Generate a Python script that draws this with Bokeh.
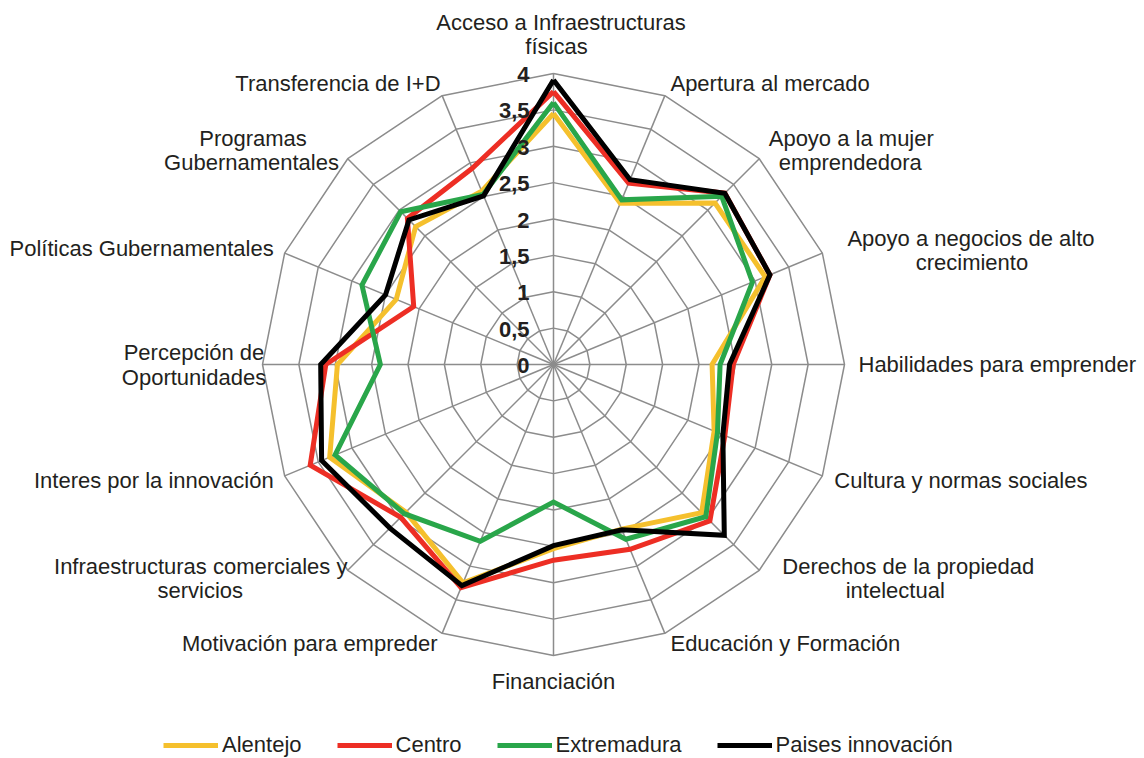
import numpy as np
from bokeh.plotting import figure
from bokeh.models import Range1d, Legend, LegendItem, ColumnDataSource
from bokeh.core.properties import value
from bokeh.embed import file_html
from bokeh.resources import INLINE

# ---------------- data ----------------
categories = [
    "Acceso a Infraestructuras\nfísicas",
    "Apertura al mercado",
    "Apoyo a la mujer\nemprendedora",
    "Apoyo a negocios de alto\ncrecimiento",
    "Habilidades para emprender",
    "Cultura y normas sociales",
    "Derechos de la propiedad\nintelectual",
    "Educación y Formación",
    "Financiación",
    "Motivación para empreder",
    "Infraestructuras comerciales y\nservicios",
    "Interes por la innovación",
    "Percepción de\nOportunidades",
    "Políticas Gubernamentales",
    "Programas\nGubernamentales",
    "Transferencia de I+D",
]
series_names = ["Alentejo", "Centro", "Extremadura", "Paises innovación"]
alentejo = [3.45, 2.40, 3.14, 3.15, 2.18, 2.39, 2.88, 2.45, 2.53, 3.25, 2.87, 3.33, 2.97, 2.34, 2.68, 2.58]
centro = [3.75, 2.70, 3.33, 3.22, 2.47, 2.55, 3.04, 2.75, 2.69, 3.32, 2.97, 3.62, 3.13, 2.08, 2.84, 2.92]
extremadura = [3.60, 2.45, 3.27, 2.96, 2.29, 2.44, 2.96, 2.60, 1.89, 2.63, 2.90, 3.25, 2.38, 2.85, 2.97, 2.53]
paises = [3.91, 2.75, 3.33, 3.22, 2.42, 2.52, 3.32, 2.46, 2.49, 3.29, 3.18, 3.45, 3.20, 2.50, 2.81, 2.51]
tick_values = [0, 0.5, 1, 1.5, 2, 2.5, 3, 3.5, 4]
tick_labels = ["0", "0,5", "1", "1,5", "2", "2,5", "3", "3,5", "4"]

# ---------------- styling / layout ----------------
colors = ["#F5C02D", "#ED2E24", "#29A64A", "#000000"]
TEXT_COLOR = "#231F20"
GRID_COLOR = "#8C8C8C"
FONT = "Liberation Sans"
RMAX = 4.0

W, H = 1144, 758
S = 72.75            # pixels per unit
CX, CY = 553, 364    # centre in canvas pixels

# label layout: (align, [(dx, dy) per line]) in pixels relative to outer vertex
LABEL_LAYOUT = [
    ("center", [(7.5, -51), (3, -27)]),
    ("left", [(5.6, -12)]),
    ("center", [(92, -20), (91, 4)]),
    ("center", [(148.6, -14.6), (149.6, 9.4)]),
    ("left", [(14, 0)]),
    ("left", [(12, 4.6)]),
    ("center", [(149, -4), (136, 20)]),
    ("left", [(5.6, 10)]),
    ("center", [(0, 26)]),
    ("right", [(-4.6, 10)]),
    ("center", [(-147, -4), (-147.5, 20)]),
    ("right", [(-11, 4.6)]),
    ("center", [(-68.5, -12), (-68.5, 13)]),
    ("right", [(-11, -4.6)]),
    ("center", [(-94.7, -20), (-96.2, 4)]),
    ("right", [(-1.6, -12)]),
]

n = len(categories)
theta = np.arange(n) * 2 * np.pi / n


def polar(r, th):
    return np.asarray(r) * np.sin(th), np.asarray(r) * np.cos(th)


p = figure(
    width=W, height=H,
    x_range=Range1d(-CX / S, (W - CX) / S),
    y_range=Range1d(-(H - CY) / S, CY / S),
    output_backend="svg", toolbar_location=None, min_border=0,
    x_axis_location=None, y_axis_location=None,
)
p.grid.visible = False
p.outline_line_color = None
p.background_fill_color = "white"

# grid rings
ring_xs, ring_ys = [], []
for rv in tick_values[1:]:
    th = np.append(theta, theta[0])
    x, y = polar(np.full(len(th), rv), th)
    ring_xs.append(list(x))
    ring_ys.append(list(y))
p.multi_line(ring_xs, ring_ys, line_color=GRID_COLOR, line_width=1.5)

# radial spokes
sx, sy = polar(np.full(n, RMAX), theta)
p.segment(x0=np.zeros(n), y0=np.zeros(n), x1=sx, y1=sy, line_color=GRID_COLOR, line_width=1.5)

# series
renderers = []
for vals, col in zip([alentejo, centro, extremadura, paises], colors):
    v = np.append(vals, vals[0])
    th = np.append(theta, theta[0])
    x, y = polar(v, th)
    r = p.line(x, y, line_color=col, line_width=5, line_join="miter")
    renderers.append(r)

# tick labels (along the top spoke)
tsrc = ColumnDataSource(dict(
    x=[-24 / S] * len(tick_values),
    y=[tv - 1 / S for tv in tick_values],
    t=tick_labels,
))
p.text("x", "y", text="t", source=tsrc, text_align="right", text_baseline="middle",
       text_font=value(FONT), text_font_size="22px", text_font_style="bold",
       text_color=TEXT_COLOR)

# category labels
groups = {"left": dict(x=[], y=[], t=[]), "right": dict(x=[], y=[], t=[]), "center": dict(x=[], y=[], t=[])}
for k, cat in enumerate(categories):
    align, offs = LABEL_LAYOUT[k]
    vx, vy = polar(RMAX, theta[k])
    for line, (dx, dy) in zip(cat.split("\n"), offs):
        groups[align]["x"].append(float(vx) + dx / S)
        groups[align]["y"].append(float(vy) - dy / S)
        groups[align]["t"].append(line)
for align, d in groups.items():
    p.text("x", "y", text="t", source=ColumnDataSource(d), text_align=align,
           text_baseline="middle", text_font=value(FONT), text_font_size="22px",
           text_color=TEXT_COLOR)

# legend
legend = Legend(
    items=[LegendItem(label=nm, renderers=[r]) for nm, r in zip(series_names, renderers)],
    orientation="horizontal", location=(163, 0),
    glyph_width=55, glyph_height=20, label_standoff=4, spacing=35,
    padding=0, margin=0, border_line_alpha=0, background_fill_alpha=0,
    label_text_font=FONT, label_text_font_size="22px", label_text_color=TEXT_COLOR,
    label_height=20,
)
p.add_layout(legend)

open("out.html", "w").write(file_html(p, INLINE))
